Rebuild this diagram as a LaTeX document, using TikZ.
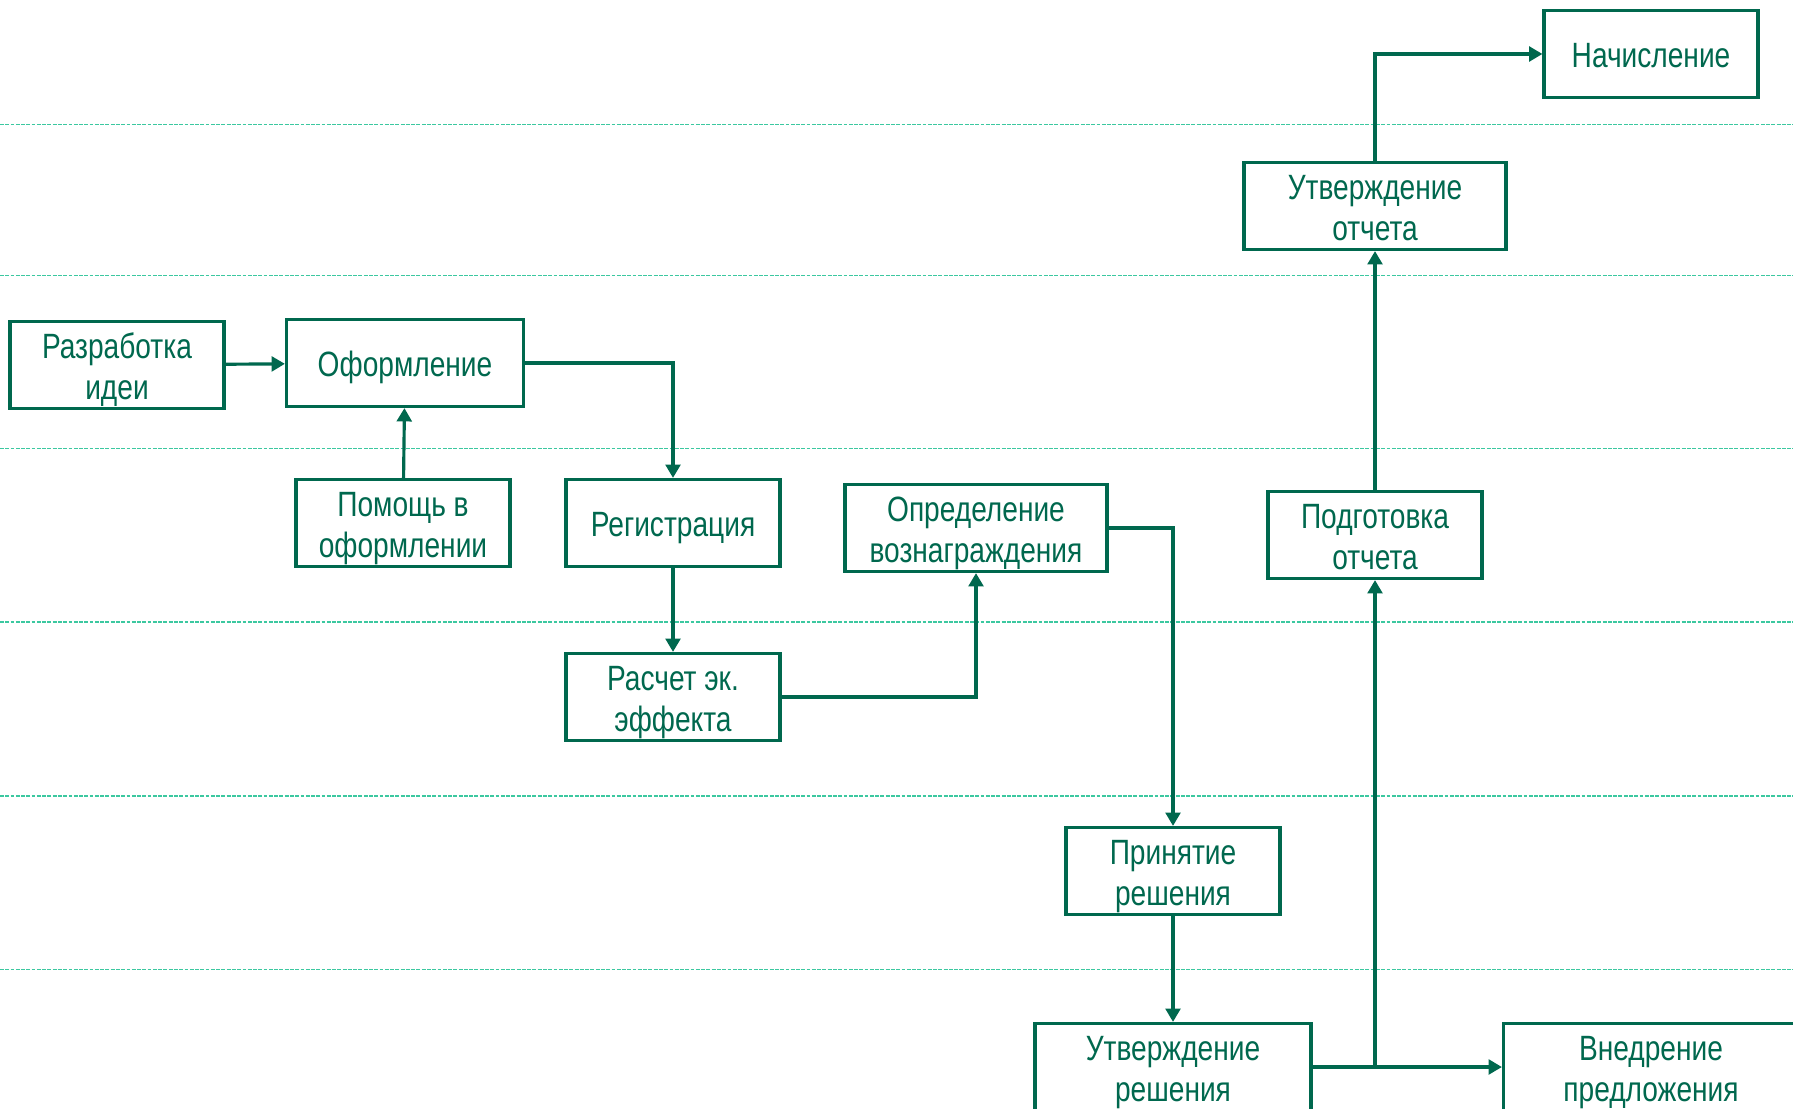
\documentclass[tikz,border=0pt]{standalone}
\usepackage{fontspec}
\setmainfont{Liberation Sans}[FakeStretch=0.8]
\usepackage{xcolor}
\usepackage{tikz}
\usetikzlibrary{arrows.meta,positioning}
\definecolor{boxgreen}{RGB}{0,104,78}
\definecolor{lanegreen}{RGB}{60,200,160}

\begin{document}
\begin{tikzpicture}[on grid, line width=0.9pt, 
  main/.style = {draw=boxgreen, text=boxgreen, align=center, inner sep=1pt, minimum width=2.14cm, minimum height=0.87cm, font=\fontsize{10}{11.6}\selectfont, text height=7.8pt, text depth=0pt},
  two/.style = {main, text height=19.4pt},
  arr/.style = {draw=boxgreen, -{Triangle[length=3.8pt,width=4.2pt]}},
  lane/.style = {draw=lanegreen, line width=0.4pt, dash pattern=on 1.1pt off 0.4pt}]
\useasboundingbox (0,0) rectangle (17.93,-11.09);
\foreach \y in {-1.246,-2.756,-4.483,-6.22,-7.959,-9.697}
  \draw[lane] (0,\y) -- (17.93,\y);
\node[two] (idea) at (1.17,-3.65) {Разработка\\идеи};
\node[main, minimum width=2.37cm] (oform) [right=2.88cm of idea, yshift=0.02cm] {Оформление};
\node[two] (help) [below=1.6cm of oform, xshift=-0.02cm] {Помощь в\\оформлении};
\node[main] (reg) [right=2.7cm of help] {Регистрация};
\node[two] (effect) [below=1.74cm of reg] {Расчет эк.\\эффекта};
\node[two, minimum width=2.62cm] (reward) [right=3.03cm of reg, yshift=-0.05cm] {Определение\\вознаграждения};
\node[two] (decide) [below right=3.43cm and 1.97cm of reward] {Принятие\\решения};
\node[two, minimum width=2.76cm] (approve) [below=1.96cm of decide] {Утверждение\\решения};
\node[two, minimum width=2.95cm] (impl) [right=4.78cm of approve] {Внедрение\\предложения};
\node[two] (report) [above right=5.32cm and 2.02cm of approve] {Подготовка\\отчета};
\node[two, minimum width=2.62cm] (repok) [above=3.29cm of report] {Утверждение\\отчета};
\node[main] (accrue) [above right=1.52cm and 2.76cm of repok] {Начисление};
\coordinate (split) at (approve -| report);
\draw[arr] (idea) -- (oform);
\draw[arr] (help) -- (oform);
\draw[arr] (oform.east) -| (reg.north);
\draw[arr] (reg) -- (effect);
\draw[arr] (effect.east) -| (reward.south);
\draw[arr] (reward.east) -| (decide.north);
\draw[arr] (decide) -- (approve);
\draw[arr] (approve) -- (impl);
\draw[arr] (split) -- (report);
\draw[arr] (report) -- (repok);
\draw[arr] (repok.north) |- (accrue.west);
\end{tikzpicture}
\end{document}
